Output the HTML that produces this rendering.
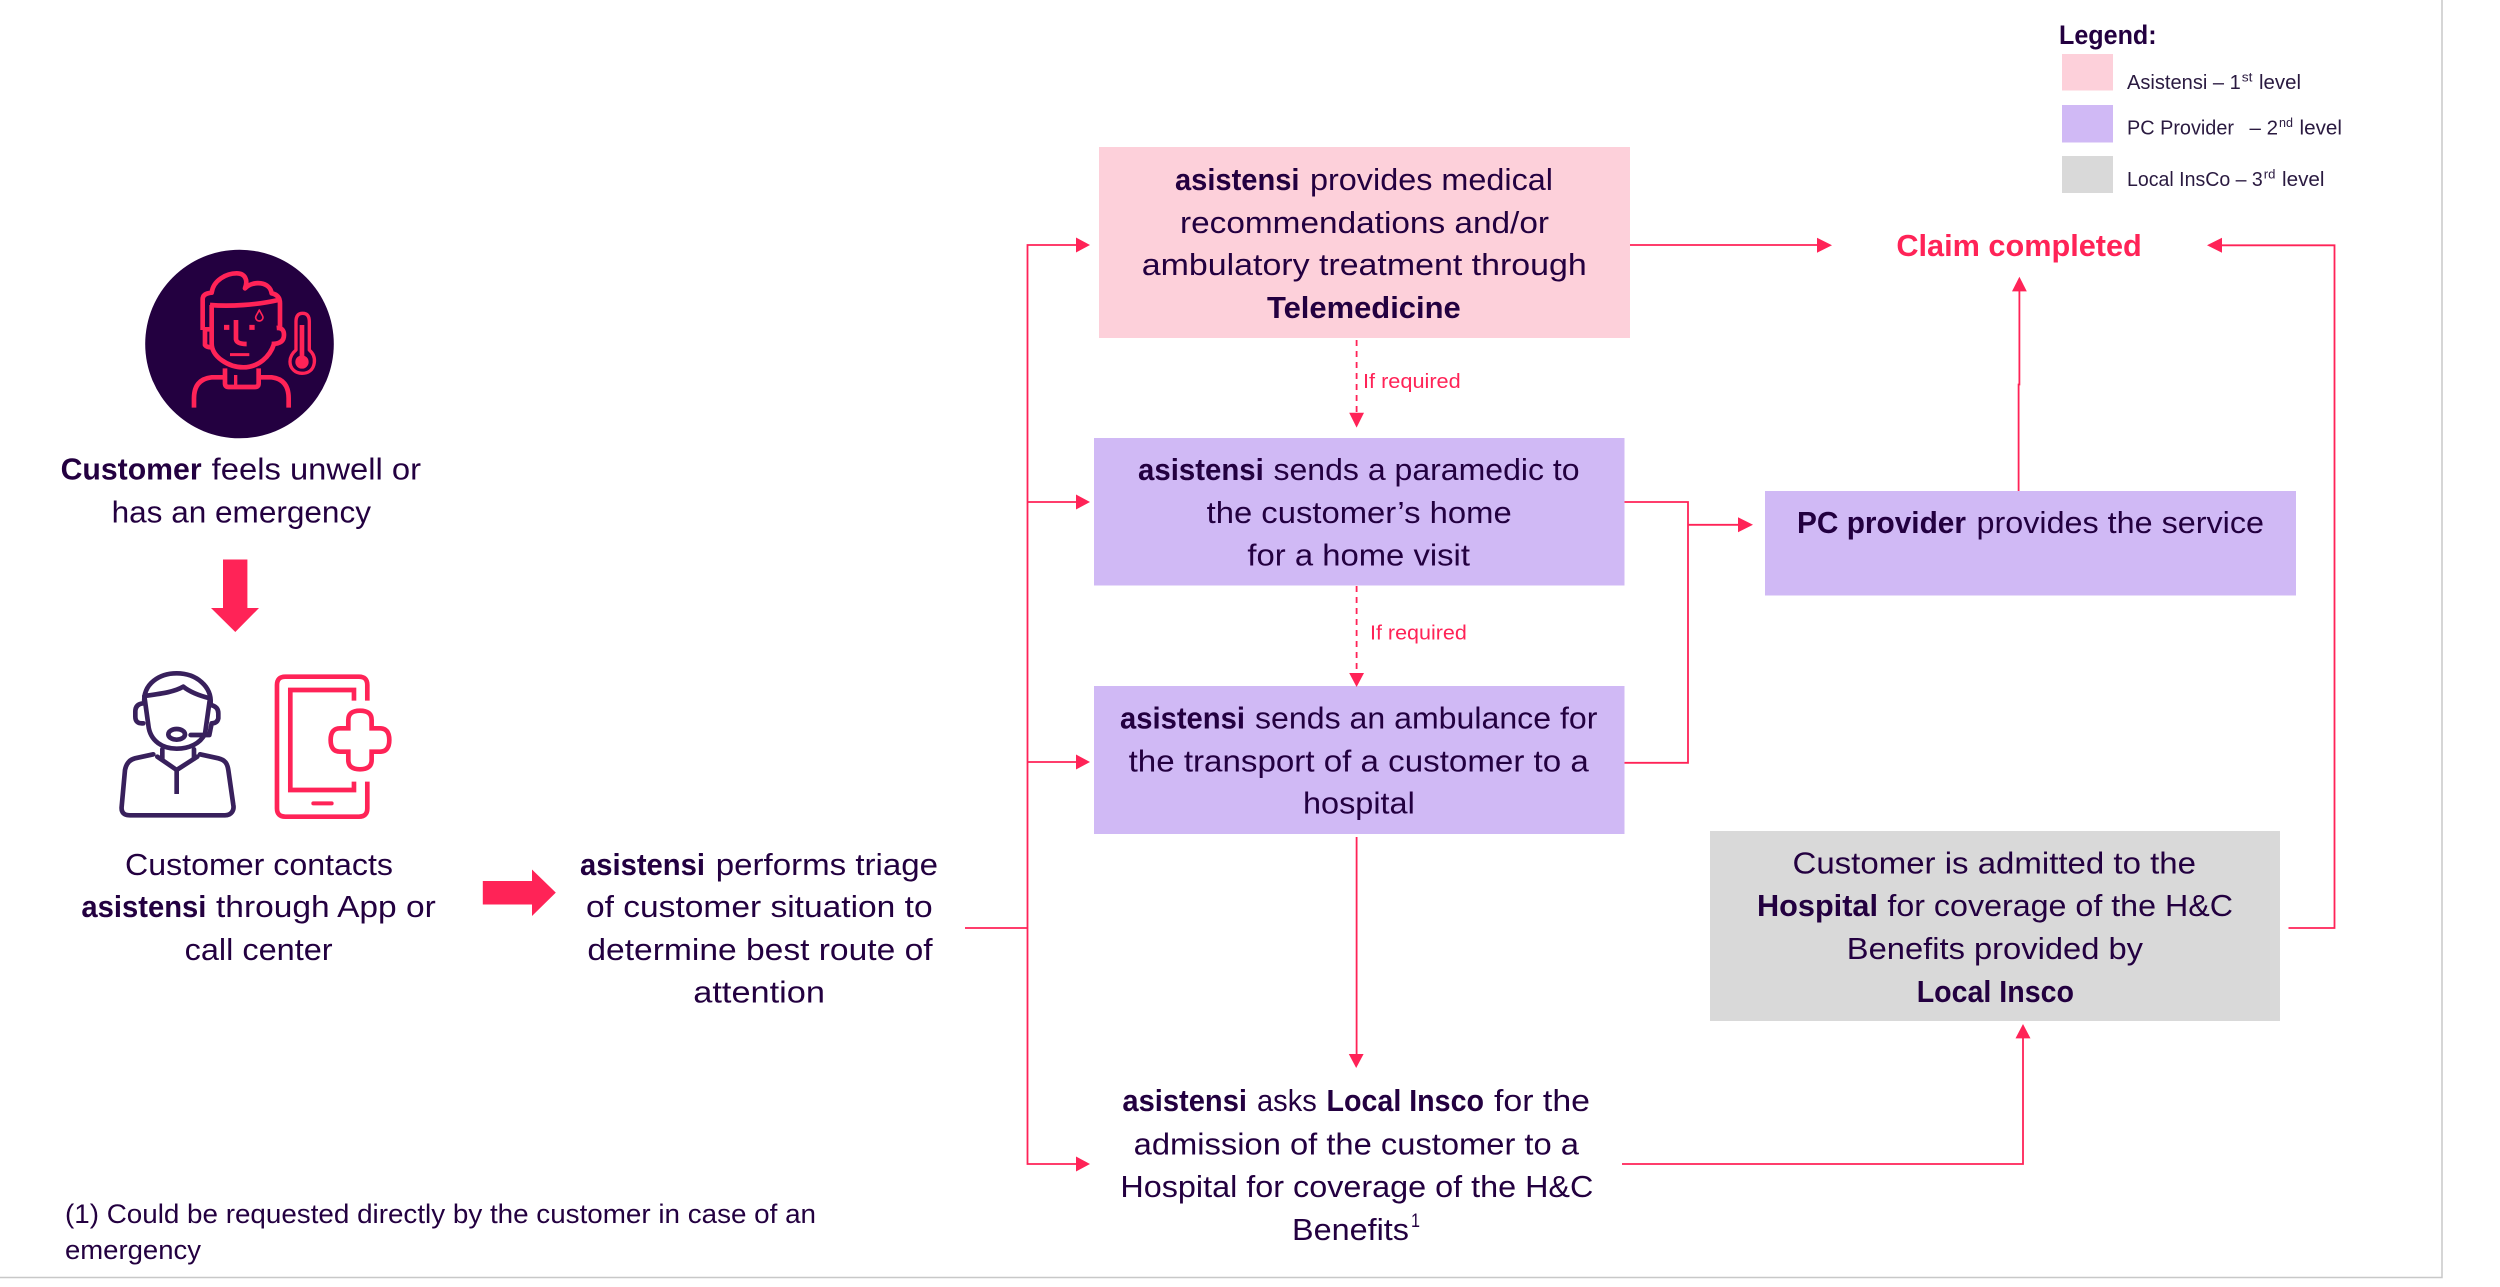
<!DOCTYPE html>
<html><head><meta charset="utf-8"><title>Claim flow</title>
<style>
html,body{margin:0;padding:0;background:#fff;width:2500px;height:1287px;overflow:hidden}
svg{display:block}
text{font-family:"Liberation Sans",sans-serif;fill:#230040}
.m{font-size:31px}
.b{font-size:31px;font-weight:bold}
.f{font-size:27px}
.l{font-size:20.5px;fill:#2a1a40}
.s{font-size:13px;fill:#2a1a40}
.r{font-size:20px;fill:#ff2357}
.ln{fill:none;stroke:#ff2357;stroke-width:1.8}
.ar{fill:#ff2357}
</style></head><body>
<svg width="2500" height="1287" viewBox="0 0 2500 1287" xmlns="http://www.w3.org/2000/svg">
<rect width="2500" height="1287" fill="#fff"/>
<!-- page edge -->
<path d="M0 1277.5H2442V0" fill="none" stroke="#c8c8c8" stroke-width="1.5"/>

<!-- boxes -->
<rect x="1099" y="147" width="531" height="191" fill="#fdd0da"/>
<rect x="1094" y="438" width="530.5" height="147.5" fill="#d0b9f5"/>
<rect x="1094" y="686" width="530.5" height="148" fill="#d0b9f5"/>
<rect x="1765" y="491" width="531" height="104.5" fill="#d0b9f5"/>
<rect x="1710" y="831" width="570" height="190" fill="#d9d9d9"/>
<rect x="2062" y="54" width="51" height="36.5" fill="#fdd0da"/>
<rect x="2062" y="105" width="51" height="37.5" fill="#d0b9f5"/>
<rect x="2062" y="156" width="51" height="37" fill="#d9d9d9"/>

<!-- connectors -->
<path class="ln" d="M965 928H1027.5"/>
<path class="ln" d="M1076 245H1027.5V1164H1076"/>
<path class="ln" d="M1027.5 502H1076"/>
<path class="ln" d="M1027.5 762H1076"/>
<polygon class="ar" points="1076,237.5 1090,245 1076,252.5"/>
<polygon class="ar" points="1076,494.5 1090,502 1076,509.5"/>
<polygon class="ar" points="1076,754.5 1090,762 1076,769.5"/>
<polygon class="ar" points="1076,1156.5 1090,1164 1076,1171.5"/>
<path class="ln" stroke-dasharray="6 5" d="M1356.6 340V413"/>
<polygon class="ar" points="1349.2,412.7 1364,412.7 1356.6,427.6"/>
<path class="ln" stroke-dasharray="6 5" d="M1356.6 586V674"/>
<polygon class="ar" points="1349.2,673 1364,673 1356.6,687"/>
<path class="ln" d="M1356.6 837V1055"/>
<polygon class="ar" points="1348.8,1054 1363.6,1054 1356.2,1068"/>
<path class="ln" d="M1630 245H1818"/>
<polygon class="ar" points="1817,237.8 1832,245.3 1817,252.8"/>
<path class="ln" d="M2221 245.3H2334.5V928H2288.5"/>
<polygon class="ar" points="2207,245.3 2222,237.8 2222,252.8"/>
<path class="ln" d="M1624.5 502H1688V762.8H1624.5"/>
<path class="ln" d="M1688 524.8H1739"/>
<polygon class="ar" points="1738,517.3 1753,524.8 1738,532.3"/>
<path class="ln" d="M2018.6 491V384.5H2019.4V290"/>
<polygon class="ar" points="2012,291.4 2026.8,291.4 2019.4,276.7"/>
<path class="ln" d="M1622 1164H2023V1037"/>
<polygon class="ar" points="2015.5,1038.4 2030.5,1038.4 2023,1024"/>

<!-- big arrows -->
<polygon class="ar" points="223,559.5 247.4,559.5 247.4,608 259,608 235.3,632 211,608 223,608"/>
<polygon class="ar" points="482.8,881 532,881 532,869.5 555.8,892.6 532,916 532,904.5 482.8,904.5"/>

<!-- sick customer icon -->
<circle cx="239.5" cy="344" r="94.3" fill="#230040"/>
<g transform="translate(130 240) scale(.3333)" fill="none" stroke="#ff2357" stroke-width="14" stroke-linejoin="round">
<path d="M218 270V178Q218 160 245 158C250 120 290 100 320 100C345 100 355 120 345 145C370 120 420 125 425 160Q450 165 450 190V262"/>
<path d="M240 195C300 200 380 195 445 180"/>
<path d="M245 195V310C245 350 295 382 340 382C385 382 420 350 432 312"/>
<path d="M440 264Q462 262 462 285Q462 312 425 312"/>
<path d="M218 268H242M225 272V315Q230 322 245 322"/>
<path d="M282 262H298M358 262H374" stroke-width="15"/>
<path d="M318 240V298Q320 312 350 312"/>
<path d="M300 344H358" stroke-width="9"/>
<path d="M285 385V430Q285 441 296 441H375Q386 441 386 430V385"/>
<path d="M317 405V440" stroke-width="10"/>
<path d="M192 503V475Q192 418 245 412H285M476 503V475Q476 418 425 412H386"/>
<path d="M498 330V245Q498 220 518 220Q538 220 538 245V330Q556 345 553 368C550 390 535 400 516 400C495 400 480 385 480 365Q480 345 498 330Z" stroke-width="10"/>
<path d="M516 255V360"/>
<circle cx="516" cy="366" r="20" fill="#ff2357" stroke="none"/>
<path d="M388 210C382 222 377 228 377 232A11 11 0 0 0 399 232C399 228 394 222 388 210Z" stroke-width="5"/>
</g>

<!-- agent icon -->
<g transform="translate(100 660) scale(.3333)" fill="none" stroke="#38205c" stroke-width="14" stroke-linejoin="round" stroke-linecap="round">
<path d="M133 130C128 70 180 40 230 40C290 40 335 80 332 130"/>
<path d="M140 107C190 100 225 95 250 80C265 92 290 105 330 115"/>
<path d="M133 108L145 195C150 245 190 266 230 266C270 266 300 250 315 222L330 115"/>
<path d="M130 130Q106 132 106 155V170Q106 192 130 190"/>
<path d="M333 135Q355 140 355 160V175Q352 190 335 190L328 225H272"/>
<ellipse cx="230" cy="223" rx="25" ry="16"/>
<path d="M187 268V298M282 268V296"/>
<path d="M172 290L230 330L292 290"/>
<path d="M230 330V402" stroke-linecap="butt"/>
<path d="M160 283L105 295C85 300 78 315 75 330L65 440C63 460 75 466 90 466H375C395 466 403 450 400 435L385 330C382 310 375 300 355 295L300 283"/>
</g>
<!-- phone icon -->
<g transform="translate(100 660) scale(.3333)" fill="none" stroke="#ff2357" stroke-width="14">
<path d="M802 122V75Q802 50 777 50H556Q531 50 531 75V445Q531 470 556 470H777Q802 470 802 445V365"/>
<path d="M762 122V90H571V390H762V365"/>
<path d="M640 430H695" stroke-width="12" stroke-linecap="round"/>
<path d="M745 205V180Q745 152 780 152Q815 152 815 180V205H840Q868 205 868 240Q868 275 840 275H815V300Q815 328 780 328Q745 328 745 300V275H720Q692 275 692 240Q692 205 720 205Z"/>
</g>

<!-- left texts -->
<text class="b" x="60.6" y="479.4" textLength="141" lengthAdjust="spacingAndGlyphs">Customer</text>
<text class="m" x="211.7" y="479.4" textLength="209.3" lengthAdjust="spacingAndGlyphs">feels unwell or</text>
<text class="m" x="111.6" y="522.6" textLength="259.4" lengthAdjust="spacingAndGlyphs">has an emergency</text>

<text class="m" x="125" y="875" textLength="268" lengthAdjust="spacingAndGlyphs">Customer contacts</text>
<text class="b" x="81.4" y="917" textLength="125" lengthAdjust="spacingAndGlyphs">asistensi</text>
<text class="m" x="216" y="917" textLength="219.8" lengthAdjust="spacingAndGlyphs">through App or</text>
<text class="m" x="184.6" y="960" textLength="148" lengthAdjust="spacingAndGlyphs">call center</text>

<text class="b" x="580" y="875" textLength="125" lengthAdjust="spacingAndGlyphs">asistensi</text>
<text class="m" x="715.8" y="875" textLength="222.2" lengthAdjust="spacingAndGlyphs">performs triage</text>
<text class="m" x="586" y="917" textLength="346.6" lengthAdjust="spacingAndGlyphs">of customer situation to</text>
<text class="m" x="587.4" y="960" textLength="345.2" lengthAdjust="spacingAndGlyphs">determine best route of</text>
<text class="m" x="693.3" y="1002.6" textLength="131.7" lengthAdjust="spacingAndGlyphs">attention</text>

<text class="f" x="65" y="1223" textLength="751" lengthAdjust="spacingAndGlyphs">(1) Could be requested directly by the customer in case of an</text>
<text class="f" x="65" y="1259" textLength="136" lengthAdjust="spacingAndGlyphs">emergency</text>

<!-- pink box text -->
<text class="b" x="1175" y="190" textLength="124.5" lengthAdjust="spacingAndGlyphs">asistensi</text>
<text class="m" x="1310" y="190" textLength="243" lengthAdjust="spacingAndGlyphs">provides medical</text>
<text class="m" x="1180" y="232.8" textLength="369" lengthAdjust="spacingAndGlyphs">recommendations and/or</text>
<text class="m" x="1141.8" y="275" textLength="444.9" lengthAdjust="spacingAndGlyphs">ambulatory treatment through</text>
<text class="b" x="1267" y="318" textLength="193.7" lengthAdjust="spacingAndGlyphs">Telemedicine</text>

<!-- paramedic -->
<text class="b" x="1138" y="480" textLength="125.8" lengthAdjust="spacingAndGlyphs">asistensi</text>
<text class="m" x="1273.5" y="480" textLength="306.1" lengthAdjust="spacingAndGlyphs">sends a paramedic to</text>
<text class="m" x="1206.6" y="523" textLength="305.1" lengthAdjust="spacingAndGlyphs">the customer’s home</text>
<text class="m" x="1247.4" y="565.7" textLength="222.6" lengthAdjust="spacingAndGlyphs">for a home visit</text>

<!-- ambulance -->
<text class="b" x="1120" y="728.4" textLength="125" lengthAdjust="spacingAndGlyphs">asistensi</text>
<text class="m" x="1255" y="728.4" textLength="342.4" lengthAdjust="spacingAndGlyphs">sends an ambulance for</text>
<text class="m" x="1128.6" y="771.4" textLength="460.2" lengthAdjust="spacingAndGlyphs">the transport of a customer to a</text>
<text class="m" x="1303" y="813.6" textLength="111.8" lengthAdjust="spacingAndGlyphs">hospital</text>

<!-- local insco -->
<text class="b" x="1122.4" y="1111" textLength="124.6" lengthAdjust="spacingAndGlyphs">asistensi</text>
<text class="m" x="1257" y="1111" textLength="59.8" lengthAdjust="spacingAndGlyphs">asks</text>
<text class="b" x="1326.5" y="1111" textLength="157.5" lengthAdjust="spacingAndGlyphs">Local Insco</text>
<text class="m" x="1494" y="1111" textLength="96" lengthAdjust="spacingAndGlyphs">for the</text>
<text class="m" x="1133.7" y="1154.6" textLength="445.3" lengthAdjust="spacingAndGlyphs">admission of the customer to a</text>
<text class="m" x="1120.4" y="1197" textLength="473" lengthAdjust="spacingAndGlyphs">Hospital for coverage of the H&amp;C</text>
<text class="m" x="1292" y="1240" textLength="117" lengthAdjust="spacingAndGlyphs">Benefits</text>
<text x="1411" y="1227" font-size="19" textLength="9" lengthAdjust="spacingAndGlyphs">1</text>

<!-- PC -->
<text class="b" x="1797" y="533" textLength="169" lengthAdjust="spacingAndGlyphs">PC provider</text>
<text class="m" x="1976.5" y="533" textLength="287.5" lengthAdjust="spacingAndGlyphs">provides the service</text>

<!-- grey -->
<text class="m" x="1792.5" y="873.6" textLength="403.5" lengthAdjust="spacingAndGlyphs">Customer is admitted to the</text>
<text class="b" x="1757" y="916" textLength="121" lengthAdjust="spacingAndGlyphs">Hospital</text>
<text class="m" x="1887.4" y="916" textLength="345.6" lengthAdjust="spacingAndGlyphs">for coverage of the H&amp;C</text>
<text class="m" x="1846.8" y="959" textLength="296.2" lengthAdjust="spacingAndGlyphs">Benefits provided by</text>
<text class="b" x="1916.7" y="1001.8" textLength="157.3" lengthAdjust="spacingAndGlyphs">Local Insco</text>

<!-- claim -->
<text x="1896.4" y="256" font-size="31" font-weight="bold" style="fill:#ff2357" textLength="245.4" lengthAdjust="spacingAndGlyphs">Claim completed</text>

<!-- if required -->
<text class="r" x="1363" y="387.8" textLength="97.7" lengthAdjust="spacingAndGlyphs">If required</text>
<text class="r" x="1370" y="639.6" textLength="96.8" lengthAdjust="spacingAndGlyphs">If required</text>

<!-- legend -->
<text x="2059" y="44" font-size="27" font-weight="bold" textLength="97.6" lengthAdjust="spacingAndGlyphs">Legend:</text>
<text class="l" x="2127" y="89" textLength="113.8" lengthAdjust="spacingAndGlyphs">Asistensi – 1</text>
<text class="s" x="2241.8" y="81.6" textLength="10.7" lengthAdjust="spacingAndGlyphs">st</text>
<text class="l" x="2259" y="89" textLength="42" lengthAdjust="spacingAndGlyphs">level</text>
<text class="l" x="2127" y="134.7" textLength="107" lengthAdjust="spacingAndGlyphs">PC Provider</text>
<text class="l" x="2249.5" y="134.7" textLength="28.5" lengthAdjust="spacingAndGlyphs">– 2</text>
<text class="s" x="2279" y="127" textLength="14" lengthAdjust="spacingAndGlyphs">nd</text>
<text class="l" x="2299.5" y="134.7" textLength="42.5" lengthAdjust="spacingAndGlyphs">level</text>
<text class="l" x="2127" y="186" textLength="135.8" lengthAdjust="spacingAndGlyphs">Local InsCo – 3</text>
<text class="s" x="2263.8" y="178.5" textLength="11.7" lengthAdjust="spacingAndGlyphs">rd</text>
<text class="l" x="2282" y="186" textLength="42.5" lengthAdjust="spacingAndGlyphs">level</text>
</svg>
</body></html>
